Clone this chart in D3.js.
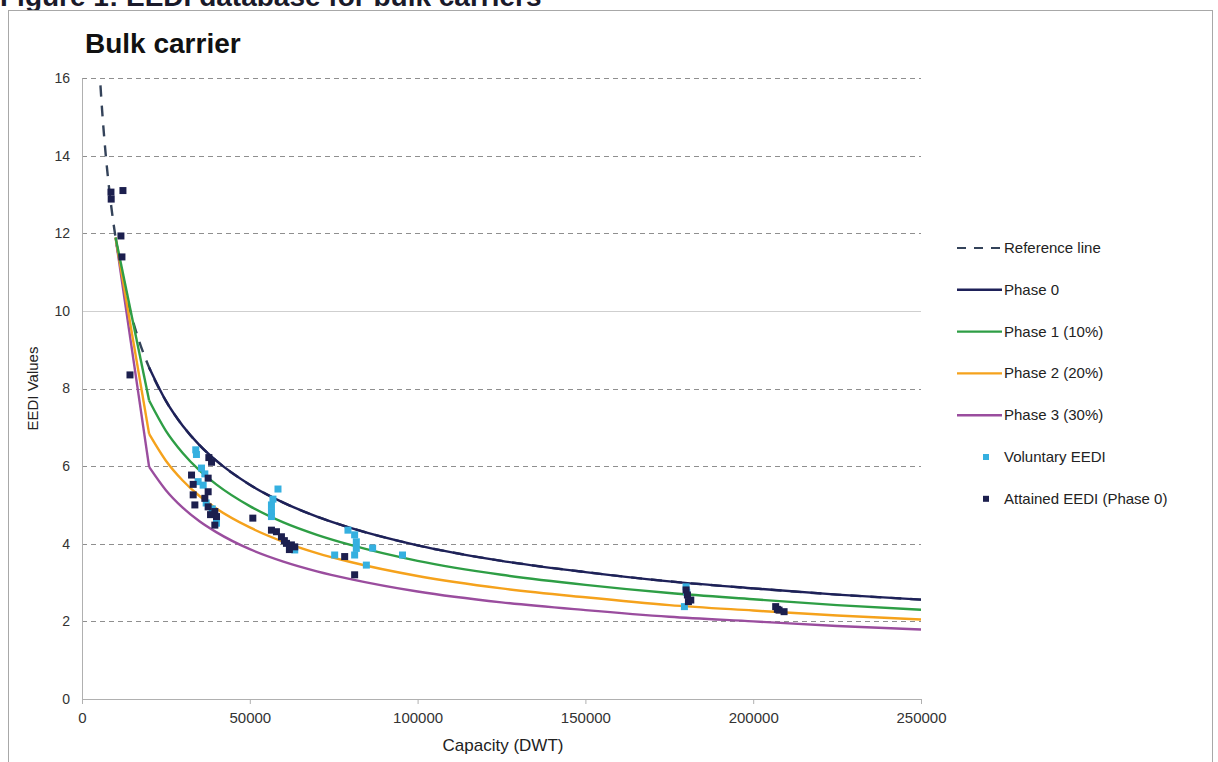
<!DOCTYPE html>
<html><head><meta charset="utf-8">
<script src="https://cdn.jsdelivr.net/npm/d3@7"></script>
<style>
html,body{margin:0;padding:0;background:#fff;}
svg{display:block;font-family:"Liberation Sans",Arial,sans-serif;}
</style></head>
<body>
<svg id="chart" width="1218" height="762"></svg>
<script>
// ---------- DATA ----------
const yTicks = [0, 2, 4, 6, 8, 10, 12, 14, 16];
const xTicks = [0, 50000, 100000, 150000, 200000, 250000];

// Reference line
const referenceLine = [
  [5500, 15.81], [6000, 15.16], [7000, 14.09], [8000, 13.22], [9000, 12.50],
  [10000, 11.89], [12000, 10.90], [14000, 10.12], [16000, 9.50], [18000, 8.98],
  [20000, 8.54], [25000, 7.68], [30000, 7.04], [35000, 6.54], [40000, 6.14],
  [50000, 5.52], [60000, 5.06], [70000, 4.70], [80000, 4.41], [100000, 3.96],
  [125000, 3.56], [150000, 3.27], [175000, 3.03], [200000, 2.85], [225000, 2.69],
  [250000, 2.56]
];
const phase0 = [
  [20000, 8.54], [25000, 7.68], [30000, 7.04], [35000, 6.54], [40000, 6.14],
  [50000, 5.52], [60000, 5.06], [70000, 4.70], [80000, 4.41], [100000, 3.96],
  [125000, 3.56], [150000, 3.27], [175000, 3.03], [200000, 2.85], [225000, 2.69],
  [250000, 2.56]
];
const phase1 = [
  [10000, 11.89], [20000, 7.69], [25000, 6.91], [30000, 6.34], [35000, 5.89], [40000, 5.53],
  [50000, 4.97], [60000, 4.55], [70000, 4.23], [80000, 3.97], [100000, 3.56],
  [125000, 3.20], [150000, 2.94], [175000, 2.73], [200000, 2.57], [225000, 2.42],
  [250000, 2.30]
];
const phase2 = [
  [10000, 11.89], [20000, 6.83], [25000, 6.14], [30000, 5.63], [35000, 5.23], [40000, 4.91],
  [50000, 4.42], [60000, 4.05], [70000, 3.76], [80000, 3.53], [100000, 3.17],
  [125000, 2.85], [150000, 2.62], [175000, 2.42], [200000, 2.28], [225000, 2.15],
  [250000, 2.05]
];
const phase3 = [
  [10000, 11.89], [20000, 5.98], [25000, 5.38], [30000, 4.93], [35000, 4.58], [40000, 4.30],
  [50000, 3.86], [60000, 3.54], [70000, 3.29], [80000, 3.09], [100000, 2.77],
  [125000, 2.49], [150000, 2.29], [175000, 2.12], [200000, 2.00], [225000, 1.88],
  [250000, 1.79]
];

const voluntaryEEDI = [
  [33900, 6.42], [34100, 6.30], [35600, 5.95], [36100, 5.51], [34600, 5.60],
  [37000, 5.05], [38800, 4.90], [40080, 4.53], [36600, 5.80],
  [58400, 5.41], [56450, 5.00], [56450, 4.83], [56450, 4.70], [56900, 5.15], [63390, 3.84],
  [79250, 4.35], [81240, 4.23], [81740, 4.05], [81740, 3.88], [81240, 3.71],
  [75290, 3.71], [84730, 3.45], [86600, 3.89], [95500, 3.71],
  [180000, 2.89], [179500, 2.38], [180200, 2.75]
];
const attainedEEDI = [
  [8630, 13.06], [8700, 12.88], [12200, 13.10], [11600, 11.93], [11900, 11.39], [14300, 8.35],
  [37800, 6.22], [38600, 6.10], [32640, 5.77], [37590, 5.69], [33130, 5.53], [33130, 5.26],
  [37590, 5.34], [36600, 5.17], [33630, 5.00], [37590, 4.95], [39580, 4.83],
  [40080, 4.70], [39580, 4.48], [38300, 4.75],
  [50900, 4.66], [56450, 4.35], [57940, 4.31], [59430, 4.18], [60300, 4.08],
  [60920, 4.01], [62400, 3.97], [63390, 3.92], [61800, 3.85],
  [78270, 3.67], [81240, 3.20],
  [180000, 2.81], [180400, 2.68], [180700, 2.51], [181400, 2.55],
  [206700, 2.38], [207200, 2.31], [207700, 2.29], [209200, 2.25]
];

const legendItems = [
  {label: "Reference line", type: "dash", color: "#34435a"},
  {label: "Phase 0", type: "line", color: "#1e2159"},
  {label: "Phase 1 (10%)", type: "line", color: "#2e9e45"},
  {label: "Phase 2 (20%)", type: "line", color: "#f5a21c"},
  {label: "Phase 3 (30%)", type: "line", color: "#9a4d9e"},
  {label: "Voluntary EEDI", type: "dot", color: "#35b0e0"},
  {label: "Attained EEDI (Phase 0)", type: "square", color: "#1c1f4e"}
];

// ---------- DRAW ----------
const svg = d3.select("#chart");
const x = d3.scaleLinear().domain([0, 250000]).range([82, 921]);
const y = d3.scaleLinear().domain([0, 16]).range([699, 78]);
const FONT = "Liberation Sans, Arial, sans-serif";

// caption (cut at top, as in the source) and frame
svg.append("text").attr("x", 0).attr("y", 6)
  .attr("font-size", 28).attr("font-weight", "bold").attr("fill", "#1a1a2a")
  .text("Figure 1: EEDI database for bulk carriers");
svg.append("rect").attr("x", 8.5).attr("y", 10.5).attr("width", 1204).attr("height", 800)
  .attr("fill", "#fff").attr("stroke", "#a8a8a8").attr("stroke-width", 1);

// title
svg.append("text").attr("x", 85).attr("y", 53)
  .attr("font-size", 28).attr("font-weight", "bold").attr("fill", "#111")
  .text("Bulk carrier");

// gridlines
svg.append("g").selectAll("line").data(yTicks.filter(d => d > 0)).join("line")
  .attr("x1", x(0)).attr("x2", x(250000))
  .attr("y1", d => Math.round(y(d)) + 0.5).attr("y2", d => Math.round(y(d)) + 0.5)
  .attr("stroke", d => d === 10 ? "#cfcfcf" : "#8f8f8f")
  .attr("stroke-width", 1)
  .attr("stroke-dasharray", d => d === 10 ? null : "5,4");

// y axis
const yAxis = d3.axisLeft(y).tickValues(yTicks).tickSize(0).tickPadding(12);
const gy = svg.append("g").attr("transform", `translate(${x(0)},0)`).call(yAxis);
gy.select(".domain").attr("stroke", "#b0b0b0");
gy.selectAll("text").attr("font-size", 14).attr("fill", "#333").attr("font-family", FONT);

// x axis
const xAxis = d3.axisBottom(x).tickValues(xTicks).tickFormat(d3.format("d"))
  .tickSize(5).tickSizeOuter(0).tickPadding(8);
const gx = svg.append("g").attr("transform", `translate(0,${y(0)})`).call(xAxis);
gx.select(".domain").attr("stroke", "#b0b0b0");
gx.selectAll(".tick line").attr("stroke", "#b0b0b0");
gx.selectAll("text").attr("font-size", 15).attr("fill", "#333").attr("font-family", FONT);

// axis titles
svg.append("text").attr("transform", `translate(38,${(y(0) + y(16)) / 2}) rotate(-90)`)
  .attr("text-anchor", "middle").attr("font-size", 15).attr("fill", "#222")
  .text("EEDI Values");
svg.append("text").attr("x", 503).attr("y", 751)
  .attr("text-anchor", "middle").attr("font-size", 17).attr("fill", "#222")
  .text("Capacity (DWT)");

// lines
const smooth = d3.line().x(d => x(d[0])).y(d => y(d[1])).curve(d3.curveMonotoneX);
const straight = d3.line().x(d => x(d[0])).y(d => y(d[1]));

function drawPhase(data, color) {
  svg.append("path").attr("d", straight(data.slice(0, 2)))
    .attr("fill", "none").attr("stroke", color).attr("stroke-width", 2.4);
  svg.append("path").attr("d", smooth(data.slice(1)))
    .attr("fill", "none").attr("stroke", color).attr("stroke-width", 2.4);
}

svg.append("path").attr("d", smooth(referenceLine))
  .attr("fill", "none").attr("stroke", "#34435a").attr("stroke-width", 2.4)
  .attr("stroke-dasharray", "11,9");
drawPhase(phase3, "#9a4d9e");
drawPhase(phase2, "#f5a21c");
drawPhase(phase1, "#2e9e45");
svg.append("path").attr("d", smooth(phase0))
  .attr("fill", "none").attr("stroke", "#1e2159").attr("stroke-width", 2.4);

// points
svg.append("g").selectAll("rect").data(voluntaryEEDI).join("rect")
  .attr("x", d => x(d[0]) - 3.5).attr("y", d => y(d[1]) - 3.5)
  .attr("width", 7).attr("height", 7).attr("fill", "#35b0e0");
svg.append("g").selectAll("rect").data(attainedEEDI).join("rect")
  .attr("x", d => x(d[0]) - 3.5).attr("y", d => y(d[1]) - 3.5)
  .attr("width", 7).attr("height", 7).attr("fill", "#1c1f4e");

// legend
const lg = svg.append("g");
legendItems.forEach((it, i) => {
  const cy = 248 + i * 41.8;
  if (it.type === "dash") {
    lg.append("line").attr("x1", 957).attr("x2", 1002).attr("y1", cy).attr("y2", cy)
      .attr("stroke", it.color).attr("stroke-width", 2.2).attr("stroke-dasharray", "9,8");
  } else if (it.type === "line") {
    lg.append("line").attr("x1", 957).attr("x2", 1002).attr("y1", cy).attr("y2", cy)
      .attr("stroke", it.color).attr("stroke-width", 2.4);
  } else {
    lg.append("rect").attr("x", 983).attr("y", cy - 3).attr("width", 6).attr("height", 6)
      .attr("fill", it.color);
  }
  lg.append("text").attr("x", 1004)
    .attr("y", cy + 5).attr("font-size", 15).attr("fill", "#222").text(it.label);
});
</script>
</body></html>
